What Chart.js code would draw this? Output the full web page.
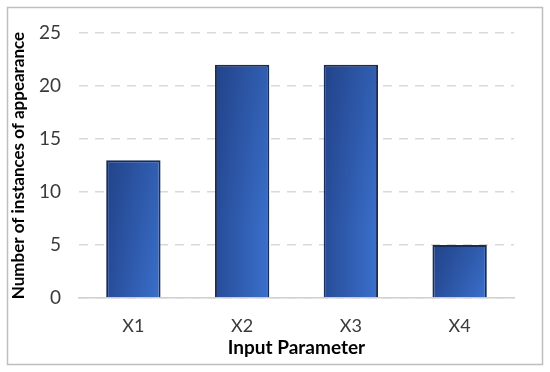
<!DOCTYPE html>
<html>
<head>
<meta charset="utf-8">
<script src="https://cdn.jsdelivr.net/npm/chart.js@4/dist/chart.umd.min.js"></script>
<style>
html,body{margin:0;padding:0;background:#fff;}
#wrap{position:relative;width:550px;height:372px;}
</style>
</head>
<body>
<div id="wrap"><canvas id="c" width="550" height="372"></canvas></div>
<script>
const categories = ["X1", "X2", "X3", "X4"];
const counts = [13, 22, 22, 5];
const yTicks = [0, 5, 10, 15, 20, 25];
const xTitle = "Input Parameter";
const yTitle = "Number of instances of appearance";

const FONT = "Lato, 'Open Sans', sans-serif";

const borderPlugin = {
  id: 'outerBorder',
  beforeDraw(chart) {
    const ctx = chart.ctx;
    ctx.save();
    ctx.fillStyle = '#fff';
    ctx.fillRect(0, 0, chart.width, chart.height);
    ctx.strokeStyle = '#bfbfbf';
    ctx.lineWidth = 1.5;
    ctx.strokeRect(7.5, 7.5, 535, 357);
    ctx.restore();
  }
};

// subtle vertical darkening at the top of each bar (on top of the horizontal gradient)
const shadePlugin = {
  id: 'barShade',
  afterDatasetsDraw(chart) {
    const ctx = chart.ctx;
    const meta = chart.getDatasetMeta(0);
    ctx.save();
    meta.data.forEach(bar => {
      const { x, y, base, width } = bar.getProps(['x', 'y', 'base', 'width'], true);
      const l = x - width / 2 + 2, r = x + width / 2 - 2;
      const t = y + 2, b = base - 1;
      if (b <= t) return;
      const g = ctx.createLinearGradient(0, t, 0, Math.min(b, t + 160));
      g.addColorStop(0, 'rgba(15,30,80,0.2)');
      g.addColorStop(1, 'rgba(15,30,80,0)');
      ctx.fillStyle = g;
      ctx.fillRect(l, t, r - l, b - t);
    });
    ctx.restore();
  }
};

function barGradient(context) {
  const chart = context.chart;
  if (!chart.chartArea || !chart.scales.x) return '#2f5bb0';
  const xs = chart.scales.x;
  const cx = xs.getPixelForValue(context.dataIndex);
  const half = (xs.width / categories.length) * 0.25;
  const g = chart.ctx.createLinearGradient(cx - half, 0, cx + half, 0);
  g.addColorStop(0, '#274c98');
  g.addColorStop(1, '#3a70cc');
  return g;
}

new Chart(document.getElementById('c'), {
  type: 'bar',
  data: {
    labels: categories,
    datasets: [{
      data: counts,
      backgroundColor: barGradient,
      borderColor: '#172c58',
      borderWidth: 2,
      categoryPercentage: 0.5,
      barPercentage: 1.0
    }]
  },
  options: {
    responsive: false,
    animation: false,
    events: [],
    layout: { padding: { left: 8, right: 36, top: 33, bottom: 8 } },
    plugins: { legend: { display: false }, tooltip: { enabled: false } },
    scales: {
      x: {
        grid: { display: false, drawTicks: false },
        border: { display: true, color: '#d0d0d0', width: 1.5 },
        ticks: { color: '#3a3a3a', font: { family: FONT, size: 18 }, padding: 17 },
        title: { display: true, text: xTitle, color: '#000', font: { family: FONT, size: 19, weight: 'bold' }, padding: { top: 0, bottom: 5 } },
        afterFit(s) { s.height = 66; }
      },
      y: {
        min: 0, max: 25,
        afterBuildTicks(s) { s.ticks = yTicks.map(v => ({ value: v })); },
        grid: { color: '#d9d9d9', lineWidth: 1.5, drawTicks: false },
        border: { display: false, dash: [9, 7] },
        ticks: { color: '#3a3a3a', font: { family: FONT, size: 19 }, padding: 18 },
        title: { display: true, text: yTitle, color: '#000', font: { family: FONT, size: 17, weight: 'bold' }, padding: { top: 0, bottom: 3 } },
        afterFit(s) { s.width = 71; }
      }
    }
  },
  plugins: [borderPlugin, shadePlugin]
});
</script>
</body>
</html>
